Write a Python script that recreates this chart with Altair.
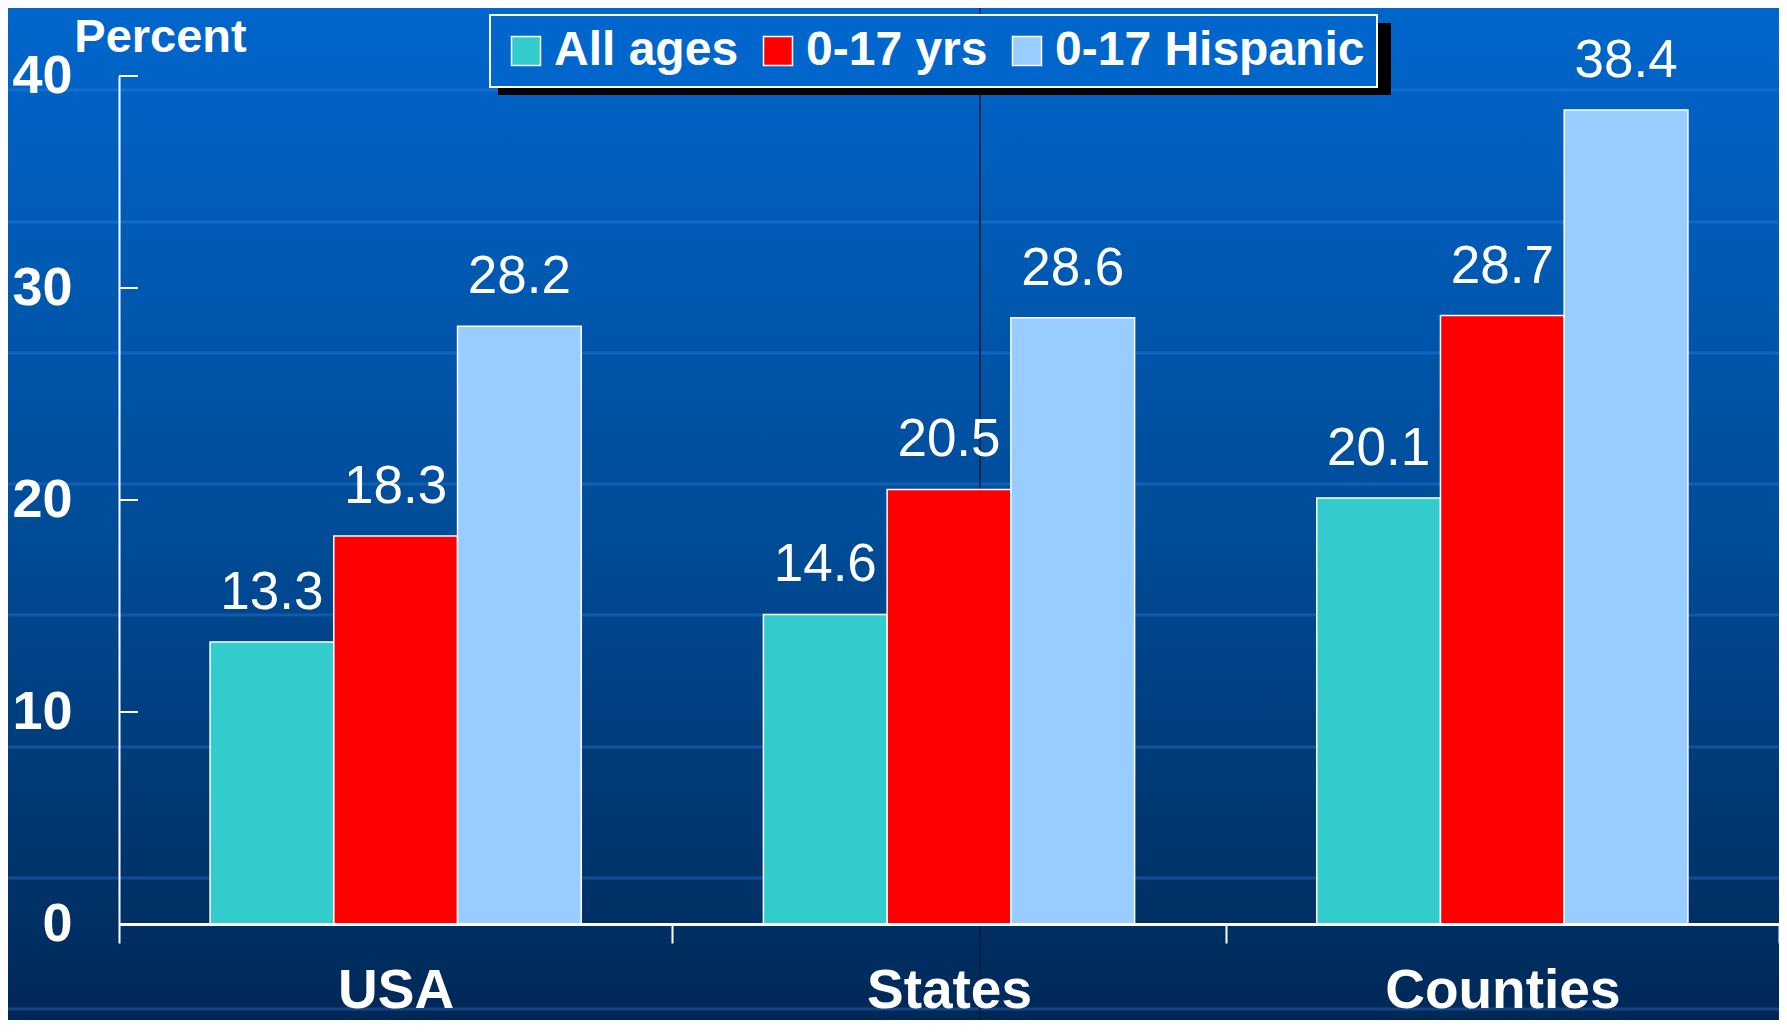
import altair as alt
import pandas as pd

# ---- data ----
regions = ["USA", "States", "Counties"]
groups = ["All ages", "0-17 yrs", "0-17 Hispanic"]
all_ages = [13.3, 14.6, 20.1]
yrs_0_17 = [18.3, 20.5, 28.7]
hispanic_0_17 = [28.2, 28.6, 38.4]
y_ticks = [0, 10, 20, 30, 40]
colors = ["#33CCCC", "#FF0000", "#99CCFF"]

rows = []
for i, r in enumerate(regions):
    for g, vals in zip(groups, [all_ages, yrs_0_17, hispanic_0_17]):
        rows.append({"region": r, "group": g, "value": vals[i]})
df = pd.DataFrame(rows)
tick_df = pd.DataFrame({"tick": y_ticks})
one = pd.DataFrame({"a": [0]})

# ---- layout ----
W, H = 1660, 848
PL, PT, PR, PB = 111, 68, 0, 96
FONT = "Liberation Sans"

x_enc = alt.X(
    "region:N", sort=regions,
    scale=alt.Scale(paddingInner=0, paddingOuter=0),
    axis=alt.Axis(title=None, labelFontSize=55, labelFontWeight="bold",
                  labelColor="white", labelFont=FONT, labelAngle=0,
                  labelPadding=21, labelBaseline="top", labelLimit=600,
                  tickBand="extent",
                  tickSize=19, tickWidth=2, tickColor="white",
                  domainColor="white", domainWidth=3, grid=False, zindex=2),
)
xoff = alt.XOffset("group:N", sort=groups,
                   scale=alt.Scale(paddingInner=0, paddingOuter=0.736))
y_enc = alt.Y(
    "value:Q",
    scale=alt.Scale(domain=[0, 40], nice=False),
    axis=alt.Axis(values=y_ticks, ticks=False, grid=False, labelFontSize=54,
                  labelFontWeight="bold", labelColor="white", labelFont=FONT,
                  labelPadding=47, labelBaseline="middle",
                  domainColor="white", domainWidth=2, zindex=2,
                  title="Percent", titleAngle=0, titleX=41, titleY=-39,
                  titleAlign="center", titleBaseline="middle",
                  titleFontSize=47, titleFontWeight="bold",
                  titleColor="white", titleFont=FONT),
)
color = alt.Color(
    "group:N", sort=groups,
    scale=alt.Scale(domain=groups, range=colors),
    legend=alt.Legend(orient="none", legendX=371, legendY=-61,
                      direction="horizontal", title=None,
                      fillColor="#0066CC", strokeColor="white", padding=12,
                      symbolType="square", symbolSize=841,
                      symbolStrokeColor="white", symbolStrokeWidth=1.5,
                      symbolOpacity=1,
                      labelFontSize=48, labelFont=FONT, labelFontWeight="bold",
                      labelColor="white", labelOffset=4, columnPadding=15,
                      labelLimit=500),
)

bg = alt.Chart(one).mark_rect(
    color=alt.Gradient(
        gradient="linear",
        stops=[alt.GradientStop(color="#0066CC", offset=0),
               alt.GradientStop(color="#004A94", offset=0.55),
               alt.GradientStop(color="#002857", offset=1)],
        x1=0, x2=0, y1=0, y2=1),
).encode(x=alt.value(-PL), x2=alt.value(W + PR),
         y=alt.value(-PT), y2=alt.value(H + PB))

# faint background lines (decoration of the slide)
deco = []
for py in [14, 146, 277, 408, 539, 671, 802, 933]:
    deco.append(alt.Chart(one).mark_rule(color="#3A8CF0", opacity=0.3,
                                         strokeWidth=3)
                .encode(x=alt.value(-PL), x2=alt.value(W + PR),
                        y=alt.value(py)))
vline = alt.Chart(one).mark_rule(color="#0A1A3A", strokeWidth=1.5).encode(
    x=alt.value(861), y=alt.value(-PT), y2=alt.value(H + PB))

shadow = alt.Chart(one).mark_rect(color="black").encode(
    x=alt.value(379), x2=alt.value(1272), y=alt.value(-53), y2=alt.value(19))

bars = alt.Chart(df).mark_bar(stroke="white", strokeWidth=1.5).encode(
    x=x_enc, xOffset=xoff, y=y_enc, color=color)

labels = alt.Chart(df).mark_text(
    dy=-33, baseline="alphabetic", fontSize=53, color="white", font=FONT
).encode(x=alt.X("region:N", sort=regions), xOffset=alt.XOffset("group:N", sort=groups),
         y="value:Q", text=alt.Text("value:Q", format=".1f"))

yticks = alt.Chart(tick_df).mark_rule(color="white", strokeWidth=2).encode(
    y=alt.Y("tick:Q"), x=alt.value(0), x2=alt.value(19))

chart = alt.layer(bg, *deco, vline, shadow, bars, labels, yticks).properties(
    width=W, height=H,
    padding={"left": PL, "top": PT, "right": PR, "bottom": PB},
    autosize=alt.AutoSizeParams(type="none"),
).configure(background="#004A94").configure_view(stroke=None).configure_legend(
    strokeWidth=2)

chart.save("out.html", embed_options={"renderer": "svg", "actions": False})
